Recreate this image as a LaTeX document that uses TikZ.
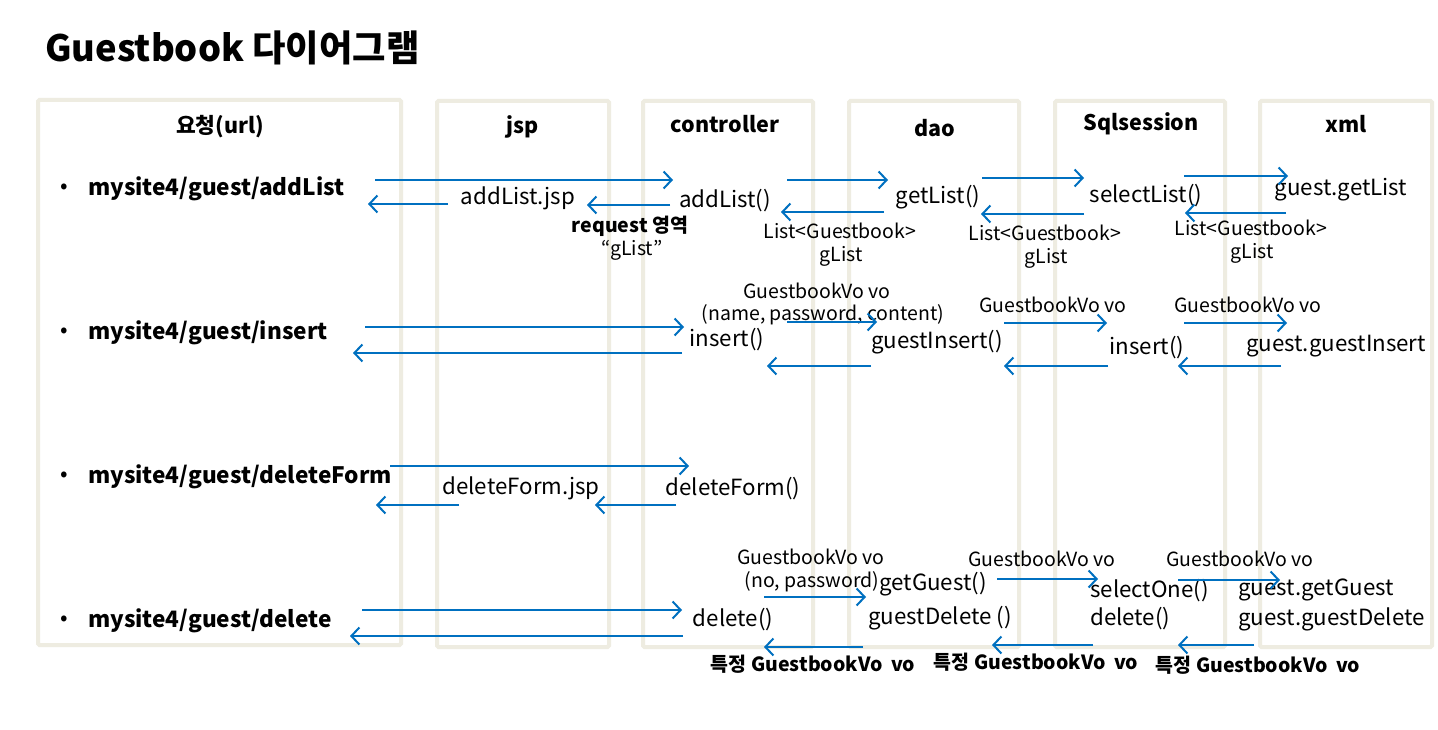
\documentclass[tikz,border=0pt]{standalone}
\usepackage{fontspec}
\setmainfont{Noto Sans CJK KR}
\usetikzlibrary{arrows.meta}
\definecolor{boxc}{HTML}{EEECE1}
\definecolor{arrc}{HTML}{0070C0}
\tikzset{
 lane/.style={draw=boxc, line width=4pt, fill=white, inner sep=0pt, rounded corners=1.5pt},
 msg/.style={draw=arrc, line width=2pt, -{Straight Barb[length=8pt,width=17pt,line width=2pt]}},
 tx/.style={inner sep=0pt, font=\fontsize{22.3}{24}\selectfont},
 sm/.style={inner sep=0pt, font=\fontsize{19.5}{21}\selectfont},
 hd/.style={inner sep=0pt, font=\fontsize{21.5}{24}\selectfont\bfseries},
 url/.style={inner sep=0pt, anchor=west, font=\fontsize{22.6}{25}\selectfont\bfseries},
 sb/.style={inner sep=0pt, font=\fontsize{19.5}{22}\selectfont\bfseries},
 ttl/.style={inner sep=0pt, anchor=west, font=\fontsize{36.3}{40}\selectfont\bfseries},
}
\newcommand\msgarr[4]{\coordinate (#1s) at (#2,#4); \coordinate (#1e) at (#3,#4); \draw[msg] (#1s) -- (#1e);}
\begin{document}
\begin{tikzpicture}[x=1pt,y=-1pt]
\useasboundingbox (0,0) rectangle (1438,730);
\fill[white] (0,0) rectangle (1438,730);
% title
\node[ttl] (title) at (45,48) {Guestbook 다이어그램};
% lanes
\node[lane, minimum width=363pt, minimum height=545pt] (L1) at (219.5,372.5) {};
\node[lane, minimum width=172pt, minimum height=546pt] (L2) at (523,374) {};
\node[lane, minimum width=170pt, minimum height=546pt] (L3) at (728,374) {};
\node[lane, minimum width=170pt, minimum height=546pt] (L4) at (934,374) {};
\node[lane, minimum width=170pt, minimum height=546pt] (L5) at (1140,374) {};
\node[lane, minimum width=172pt, minimum height=546pt] (L6) at (1346,374) {};
% headers
\node[hd] (h1) at (220,127) {요청(url)};
\node[hd] (h2) at (523,127) {jsp};
\node[hd] (h3) at (725,124) {controller};
\node[hd] (h4) at (935,128) {dao};
\node[hd] (h5) at (1141,124) {Sqlsession};
\node[hd] (h6) at (1346,124) {xml};
% bullets / urls
\foreach \yy/\nm/\tt in {189/u1/addList, 333/u2/insert, 477/u3/deleteForm, 621/u4/delete}{
  \node[tx, anchor=center] (b\nm) at (64,\yy) {•};
  \node[url] (\nm) at (88,\yy) {mysite4/guest/\tt};
}
% ---------- row 1 ----------
\node[tx] (r1jsp) at (518,198) {addList.jsp};
\node[sb] (req) at (630,226) {request 영역};
\node[sm] (gl0) at (632,250) {“gList”};
\node[tx] (r1c) at (725,201) {addList()};
\node[sm] (lg1) at (840,231) {List<Guestbook>};
\node[sm] (gl1) at (841,256) {gList};
\node[tx] (r1d) at (938,197) {getList()};
\node[sm] (lg2) at (1045,233) {List<Guestbook>};
\node[sm] (gl2) at (1046,258) {gList};
\node[tx] (r1s) at (1146,196) {selectList()};
\node[sm] (lg3) at (1251,228) {List<Guestbook>};
\node[sm] (gl3) at (1252,253) {gList};
\node[tx] (r1x) at (1341,190) {guest.getList};
\msgarr{a1}{375}{673}{180}
\msgarr{a2}{448}{368}{204}
\msgarr{a3}{670}{587}{205}
\msgarr{a4}{787}{888}{180}
\msgarr{a5}{884}{781}{212}
\msgarr{a6}{982}{1084}{178}
\msgarr{a7}{1084}{981}{214}
\msgarr{a8}{1184}{1288}{176}
\msgarr{a9}{1286}{1185}{213}
% ---------- row 2 ----------
\node[tx] (r2c) at (727,340) {insert()};
\node[sm] (gv1) at (817,291) {GuestbookVo vo};
\node[sm] (np) at (823,315) {(name, password, content)};
\node[tx] (r2d) at (937,342) {guestInsert()};
\node[sm] (gv2) at (1053,305) {GuestbookVo vo};
\node[tx] (r2s) at (1147,348) {insert()};
\node[sm] (gv3) at (1248,305) {GuestbookVo vo};
\node[tx] (r2x) at (1336,346) {guest.guestInsert};
\msgarr{b1}{365}{684}{327}
\msgarr{b2}{682}{353}{353}
\msgarr{b3}{787}{877}{322}
\msgarr{b4}{871}{767}{366}
\msgarr{b5}{1004}{1107}{323}
\msgarr{b6}{1108}{1004}{366}
\msgarr{b7}{1184}{1287}{323}
\msgarr{b8}{1281}{1178}{366}
% ---------- row 3 ----------
\node[tx] (r3jsp) at (521,488) {deleteForm.jsp};
\node[tx] (r3c) at (733,489) {deleteForm()};
\msgarr{c1}{390}{689}{466}
\msgarr{c2}{459}{376}{505}
\msgarr{c3}{676}{595}{505}
% ---------- row 4 ----------
\node[tx] (r4c) at (733,620) {delete()};
\node[sm] (gv4) at (811,557) {GuestbookVo vo};
\node[sm] (nop) at (812,582) {(no, password)};
\node[tx] (r4d1) at (933,584) {getGuest()};
\node[tx] (r4d2) at (940,618) {guestDelete ()};
\node[sb] (tg1) at (813,664) {특정 GuestbookVo\hspace{4pt} vo};
\node[sm] (gv5) at (1042,559) {GuestbookVo vo};
\node[tx, anchor=west] (r4s1) at (1090,591) {selectOne()};
\node[tx, anchor=west] (r4s2) at (1090,619) {delete()};
\node[sb] (tg2) at (1036,662) {특정 GuestbookVo\hspace{4pt} vo};
\node[sm] (gv6) at (1240,559) {GuestbookVo vo};
\node[tx, anchor=west] (r4x1) at (1238,590) {guest.getGuest};
\node[tx, anchor=west] (r4x2) at (1238,619) {guest.guestDelete};
\node[sb] (tg3) at (1258,665) {특정 GuestbookVo\hspace{4pt} vo};
\msgarr{d1}{362}{682}{610}
\msgarr{d2}{683}{350}{636}
\msgarr{d3}{764}{866}{597}
\msgarr{d4}{863}{764}{647}
\msgarr{d5}{997}{1098}{579}
\msgarr{d6}{1093}{992}{645}
\msgarr{d7}{1178}{1280}{580}
\msgarr{d8}{1254}{1178}{645}
\end{tikzpicture}
\end{document}
